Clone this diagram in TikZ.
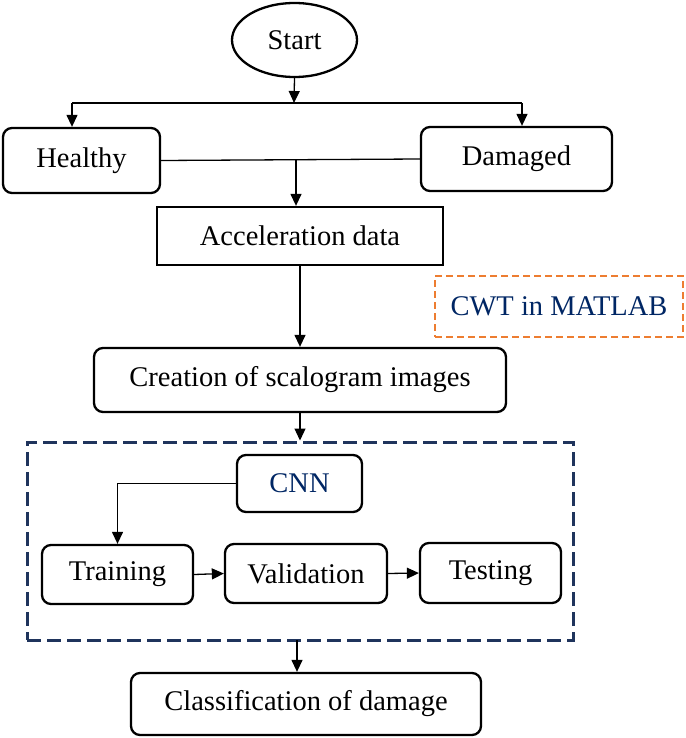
\documentclass[tikz,border=0pt]{standalone}
\usepackage{fontspec}
\setmainfont{Liberation Serif}
\usepackage{tikz}
\usetikzlibrary{positioning, shapes.geometric, arrows.meta, calc}

\definecolor{cwtorange}{RGB}{237,125,49}
\definecolor{framenavy}{RGB}{31,52,92}
\definecolor{textnavy}{RGB}{0,38,100}

\begin{document}
\begin{tikzpicture}[x=1pt, y=-1pt,
    every node/.style={font=\fontsize{28.5}{33}\selectfont},
    box/.style={draw, line width=2.3pt, rounded corners=9pt, align=center, inner sep=0pt},
    plainbox/.style={draw, line width=2.3pt, align=center, inner sep=0pt},
    link/.style={line width=1.3pt},
    arrow/.style={link, -{Triangle[length=12pt, width=11pt]}}]
  \useasboundingbox (0,0) rectangle (685,738);

  \node[draw, ellipse, line width=2.3pt, minimum width=125, minimum height=74] (start) at (294.5,40) {Start};
  \node[box, minimum width=157, minimum height=65] (healthy) at (81.5,160.5) {Healthy};
  \node[box, minimum width=191, minimum height=64] (damaged) at (516.5,159) {Damaged};
  \node[plainbox, minimum width=286, minimum height=58] (accel) at (300,236) {Acceleration data};
  \node[draw=cwtorange, dash pattern=on 7pt off 4pt, line width=2.3pt, text=textnavy,
        minimum width=248, minimum height=61] (cwt) at (559,306.5) {CWT in MATLAB};
  \node[box, minimum width=412, minimum height=64] (scalo) at (300,380) {Creation of scalogram images};
  \node[draw=framenavy, dash pattern=on 14pt off 6pt, line width=3pt,
        minimum width=546, minimum height=198] (cnnframe) at (300,541) {};
  \node[box, text=textnavy, minimum width=125, minimum height=57] (cnn) at (299.5,483.5) {CNN};
  \node[box, minimum width=151, minimum height=59] (training) at (117.5,574.5) {Training};
  \node[box, minimum width=162, minimum height=59] (validation) at (306,573.5) {Validation};
  \node[box, minimum width=141, minimum height=60] (testing) at (490.5,573) {Testing};
  \node[box, minimum width=350, minimum height=62] (classif) at (306,704) {Classification of damage};

  % split to both cases
  \coordinate (split) at (294,103);
  \coordinate (busleft) at (72,103);
  \coordinate (busright) at (522,103);
  \draw[arrow] (start.south) -- (split);
  \draw[link] (busleft) -- (busright);
  \draw[arrow] (busleft) -- (busleft |- healthy.north);
  \draw[arrow] (busright) -- (busright |- damaged.north);

  % merge into the data
  \coordinate (merge) at (296,160);
  \draw[link] (healthy.east) -- (damaged.west);
  \draw[arrow] (merge) -- (merge |- accel.north);

  \draw[arrow] (accel.south) -- (scalo.north);
  \draw[arrow] (scalo.south) -- (cnnframe.north);
  \draw[arrow] (cnn.west) -| (training.north);
  \foreach \from/\to in {training/validation, validation/testing}{
    \draw[arrow] (\from.east) -- (\to.west);
  }
  \coordinate (out) at (297,640);
  \draw[arrow] (out) -- (out |- classif.north);
\end{tikzpicture}
\end{document}
